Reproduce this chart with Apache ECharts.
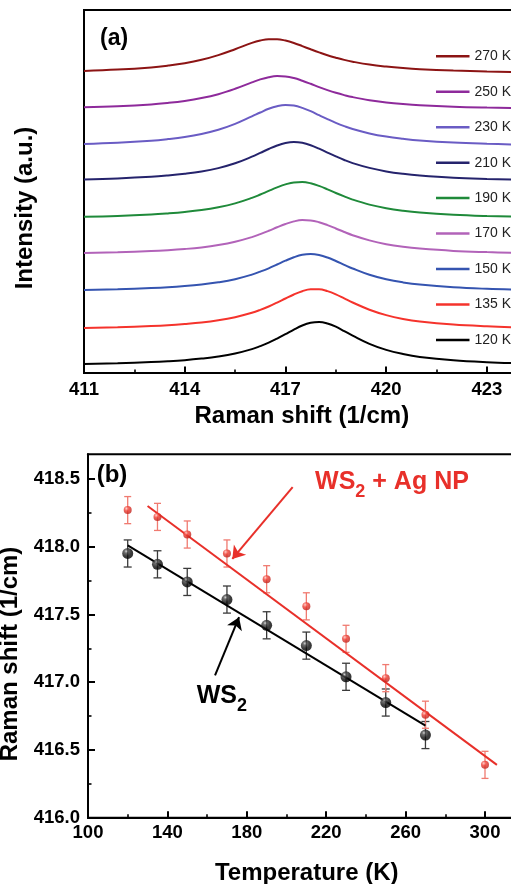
<!DOCTYPE html>
<html><head><meta charset="utf-8">
<script src="https://cdn.jsdelivr.net/npm/echarts@6/dist/echarts.min.js"></script>
<style>html,body{margin:0;padding:0;background:#fff;overflow:hidden}#c{width:511px;height:884px}</style>
</head><body><div id="c"></div>
<script>
// ---------- Panel (a): Raman spectra (intensity in arbitrary units, stacked) ----------
const ramanX = [411, 412, 413, 413.5, 414, 414.5, 415, 415.5, 416, 416.25, 416.5, 416.75, 417, 417.25, 417.5, 417.75, 418, 418.25, 418.5, 418.75, 419, 419.5, 420, 420.5, 421, 422, 423, 424];
const temps = ['270 K', '250 K', '230 K', '210 K', '190 K', '170 K', '150 K', '135 K', '120 K'];
const i270 = [302.1, 303.4, 305.6, 307.4, 309.8, 313.2, 317.9, 323.8, 330.1, 332.5, 333.8, 333.8, 332.4, 330.0, 326.9, 323.7, 320.6, 317.7, 315.3, 313.1, 311.3, 308.4, 306.4, 304.9, 303.8, 302.4, 301.5, 300.9];
const i250 = [265.7, 266.8, 268.6, 270.1, 272.1, 274.9, 278.8, 284.2, 290.6, 293.6, 295.8, 296.9, 296.6, 295.0, 292.3, 289.2, 285.9, 282.9, 280.2, 277.9, 275.9, 272.8, 270.6, 269.0, 267.8, 266.3, 265.4, 264.8];
const i230 = [229.1, 230.3, 232.3, 233.9, 236.0, 239.0, 243.2, 249.1, 256.6, 260.5, 264.2, 266.8, 268.0, 267.4, 265.1, 261.8, 257.8, 253.9, 250.2, 246.9, 244.0, 239.6, 236.4, 234.2, 232.5, 230.4, 229.2, 228.4];
const i210 = [193.6, 194.6, 196.2, 197.5, 199.2, 201.5, 204.9, 209.7, 216.3, 220.1, 224.0, 227.5, 230.0, 231.0, 230.2, 227.8, 224.3, 220.4, 216.6, 213.0, 209.9, 205.1, 201.6, 199.2, 197.5, 195.3, 194.1, 193.3];
const i190 = [156.3, 157.1, 158.5, 159.6, 161.0, 162.9, 165.7, 169.6, 175.1, 178.5, 182.1, 185.6, 188.6, 190.6, 190.9, 189.7, 187.1, 183.7, 180.0, 176.6, 173.4, 168.4, 164.8, 162.3, 160.5, 158.3, 157.0, 156.2];
const i170 = [120.0, 120.7, 121.9, 122.8, 124.0, 125.6, 127.9, 131.2, 135.9, 138.9, 142.2, 145.7, 149.0, 151.6, 152.9, 152.6, 150.8, 147.9, 144.5, 141.0, 137.8, 132.6, 128.8, 126.2, 124.4, 122.1, 120.9, 120.1];
const i150 = [83.0, 83.7, 84.9, 85.7, 86.9, 88.5, 90.7, 93.8, 98.4, 101.4, 104.7, 108.5, 112.3, 115.7, 118.2, 119.0, 118.0, 115.5, 112.0, 108.2, 104.5, 98.2, 93.7, 90.6, 88.4, 85.7, 84.2, 83.3];
const i135 = [45.1, 45.8, 47.0, 47.8, 49.0, 50.5, 52.7, 55.8, 60.2, 63.1, 66.5, 70.4, 74.5, 78.5, 81.8, 83.7, 83.8, 81.9, 78.7, 74.6, 70.5, 63.3, 57.9, 54.1, 51.5, 48.4, 46.7, 45.6];
const i120 = [9.1, 9.8, 10.9, 11.7, 12.8, 14.4, 16.5, 19.5, 23.9, 26.9, 30.3, 34.4, 38.8, 43.4, 47.5, 50.2, 51.0, 49.5, 46.3, 41.9, 37.4, 29.2, 23.1, 19.0, 16.1, 12.7, 10.8, 9.7];
const aTicks = [411, 414, 417, 420, 423];
const aMinorTicks = [412.5, 415.5, 418.5, 421.5];

// ---------- Panel (b): Raman shift vs temperature ----------
const tWs2 = [120, 135, 150, 170, 190, 210, 230, 250, 270];
const ws2Shift = [417.95, 417.87, 417.74, 417.61, 417.42, 417.27, 417.04, 416.85, 416.61];
const ws2Err = [0.1, 0.1, 0.1, 0.1, 0.1, 0.1, 0.1, 0.1, 0.1];
const tAg = [120, 135, 150, 170, 190, 210, 230, 250, 270, 300];
const agShift = [418.27, 418.22, 418.09, 417.95, 417.76, 417.56, 417.32, 417.03, 416.76, 416.39];
const agErr = [0.1, 0.1, 0.1, 0.1, 0.1, 0.1, 0.1, 0.1, 0.1, 0.1];
const ws2FitT = [120, 270];
const ws2FitY = [418.01, 416.68];
const agFitT = [130, 306];
const agFitY = [418.30, 416.39];
const ws2ArrowT = [164.0, 176.1];
const ws2ArrowY = [417.05, 417.48];
const agArrowT = [203.1, 172.7];
const agArrowY = [418.44, 417.91];
const ws2LabelAt = [154.8, 416.90];
const agLabelAt = [214.4, 418.476];
const bTicksX = [100, 140, 180, 220, 260, 300];
const bMinorX = [120, 160, 200, 240, 280];
const bTicksY = [416.0, 416.5, 417.0, 417.5, 418.0, 418.5];
const bMinorY = [416.25, 416.75, 417.25, 417.75, 418.25];

const FONT = "'Liberation Sans', Arial, Helvetica, sans-serif";
const RED = '#e8302a';
const specColors = ['#8c1414', '#8e2a9b', '#6a5cc4', '#25236c', '#1f8a3a', '#b263b9', '#3554b0', '#f5332c', '#000000'];
const spectra = [i270, i250, i230, i210, i190, i170, i150, i135, i120];
const pair = (xs, ys) => xs.map((x, i) => [x, ys[i]]);

const labelStyle = {fontSize: 18.5, fontWeight: 'bold', color: '#000', fontFamily: FONT};
const nameStyle = {fontSize: 24, fontWeight: 'bold', color: '#000', fontFamily: FONT};
const lineBlack = {lineStyle: {color: '#000', width: 2}};

function majorX(grid, min, max, ticks, margin, name, gap, pad) {
  return {gridIndex: grid, type: 'value', position: 'bottom', min: min, max: max,
    axisLine: lineBlack,
    axisTick: {inside: true, length: 6.5, customValues: ticks, lineStyle: {color: '#000', width: 2}},
    axisLabel: Object.assign({customValues: ticks, margin: margin}, labelStyle),
    splitLine: {show: false},
    name: name, nameLocation: 'middle', nameGap: gap,
    nameTextStyle: Object.assign({padding: pad}, nameStyle)};
}
function minorX(grid, min, max, ticks) {
  return {gridIndex: grid, type: 'value', position: 'bottom', min: min, max: max,
    axisLine: {show: false},
    axisTick: {inside: true, length: 3.5, customValues: ticks, lineStyle: {color: '#000', width: 1.6}},
    axisLabel: {show: false}, splitLine: {show: false}};
}

function errRender(capHalf, color) {
  return function (params, api) {
    const x = api.value(0), y = api.value(1), e = api.value(2);
    const top = api.coord([x, y + e]);
    const bot = api.coord([x, y - e]);
    const st = () => ({stroke: color, lineWidth: 1.3});
    return {type: 'group', children: [
      {type: 'line', shape: {x1: top[0], y1: top[1], x2: bot[0], y2: bot[1]}, style: st()},
      {type: 'line', shape: {x1: top[0] - capHalf, y1: top[1], x2: top[0] + capHalf, y2: top[1]}, style: st()},
      {type: 'line', shape: {x1: bot[0] - capHalf, y1: bot[1], x2: bot[0] + capHalf, y2: bot[1]}, style: st()}
    ]};
  };
}
function arrowLine(ts, ys, color) {
  return {silent: true, symbol: ['none', 'arrow'], symbolSize: 12,
    label: {show: false}, lineStyle: {color: color, width: 2, type: 'solid', opacity: 1},
    itemStyle: {color: color},
    emphasis: {disabled: true},
    data: [[{coord: [ts[0], ys[0]]}, {coord: [ts[1], ys[1]]}]]};
}

const series = [];
spectra.forEach((arr, k) => series.push({
  name: temps[k], type: 'line', xAxisIndex: 0, yAxisIndex: 0,
  data: pair(ramanX, arr), smooth: 0.4, showSymbol: false, symbol: 'none',
  lineStyle: {width: 2, color: specColors[k]}, itemStyle: {color: specColors[k]},
  silent: true
}));

series.push({
  type: 'custom', xAxisIndex: 2, yAxisIndex: 1, silent: true, z: 2,
  encode: {x: 0, y: 1},
  data: tWs2.map((t, i) => [t, ws2Shift[i], ws2Err[i]]),
  renderItem: errRender(4, '#3a3a3a')
});
series.push({
  type: 'custom', xAxisIndex: 2, yAxisIndex: 1, silent: true, z: 2,
  encode: {x: 0, y: 1},
  data: tAg.map((t, i) => [t, agShift[i], agErr[i]]),
  renderItem: errRender(3.5, '#f07a70')
});
series.push({
  type: 'line', xAxisIndex: 2, yAxisIndex: 1, silent: true, z: 3,
  data: pair(ws2FitT, ws2FitY), showSymbol: false, symbol: 'none',
  lineStyle: {color: '#000', width: 2}, itemStyle: {color: '#000'},
  markLine: arrowLine(ws2ArrowT, ws2ArrowY, '#000')
});
series.push({
  type: 'line', xAxisIndex: 2, yAxisIndex: 1, silent: true, z: 3,
  data: pair(agFitT, agFitY), showSymbol: false, symbol: 'none',
  lineStyle: {color: RED, width: 2}, itemStyle: {color: RED},
  markLine: arrowLine(agArrowT, agArrowY, RED)
});
series.push({
  type: 'scatter', xAxisIndex: 2, yAxisIndex: 1, silent: true, z: 5,
  data: pair(tWs2, ws2Shift), symbolSize: 11,
  itemStyle: {color: {type: 'radial', x: 0.36, y: 0.3, r: 0.75,
    colorStops: [{offset: 0, color: '#c8c8c8'}, {offset: 0.22, color: '#4a4a4a'}, {offset: 0.6, color: '#0c0c0c'}, {offset: 1, color: '#000'}]}}
});
series.push({
  type: 'scatter', xAxisIndex: 2, yAxisIndex: 1, silent: true, z: 5,
  data: pair(tAg, agShift), symbolSize: 8,
  itemStyle: {color: {type: 'radial', x: 0.36, y: 0.3, r: 0.75,
    colorStops: [{offset: 0, color: '#ffc4bd'}, {offset: 0.4, color: '#ee3a30'}, {offset: 1, color: '#b8201a'}]}}
});
function richFor(color) {
  return {
    m: {fontSize: 25, fontWeight: 'bold', fontFamily: FONT, color: color, opacity: 1},
    s: {fontSize: 18, fontWeight: 'bold', fontFamily: FONT, color: color, opacity: 1, padding: [20, 0, 0, 0]}
  };
}
function annLabel(text, color) {
  return {show: true, position: 'right', distance: 0, formatter: text, color: color,
    fontWeight: 'bold', opacity: 1, textBorderWidth: 0, rich: richFor(color)};
}
series.push({
  type: 'scatter', xAxisIndex: 2, yAxisIndex: 1, silent: true, z: 6, symbolSize: 0,
  itemStyle: {opacity: 1},
  data: [
    {value: agLabelAt, label: annLabel('{m|WS}{s|2}{m| + Ag NP}', RED)},
    {value: ws2LabelAt, label: annLabel('{m|WS}{s|2}', '#000')}
  ]
});

const option = {
  animation: false,
  backgroundColor: '#fff',
  textStyle: {fontFamily: FONT},
  grid: [
    {left: 84, top: 10, width: 503.7, height: 363, show: true, borderColor: '#000', borderWidth: 2, outerBoundsMode: 'none', containLabel: false},
    {left: 88, top: 454.3, width: 476.4, height: 363.4, show: true, borderColor: '#000', borderWidth: 2, outerBoundsMode: 'none', containLabel: false}
  ],
  legend: {
    data: temps, orient: 'vertical', left: 436, top: 49.3, padding: 0, icon: 'rect',
    itemWidth: 33.5, itemHeight: 2.5, itemGap: 21.45, selectedMode: false,
    textStyle: {fontSize: 14, lineHeight: 14, color: '#222', fontFamily: FONT}
  },
  xAxis: [
    majorX(0, 411, 426, aTicks, 7, 'Raman shift (1/cm)', 31.5, [0, 68, 0, 0]),
    minorX(0, 411, 426, aMinorTicks),
    majorX(1, 100, 340, bTicksX, 6, 'Temperature (K)', 43.8, [0, 39, 0, 0]),
    minorX(1, 100, 340, bMinorX)
  ],
  yAxis: [
    {gridIndex: 0, type: 'value', position: 'left', min: 0, max: 363,
      axisLine: {show: true, lineStyle: {color: '#000', width: 2}},
      axisTick: {show: false}, axisLabel: {show: false}, splitLine: {show: false},
      name: 'Intensity (a.u.)', nameLocation: 'middle', nameRotate: 90, nameGap: 47,
      nameTextStyle: Object.assign({padding: [0, 33, 0, 0]}, nameStyle)},
    {gridIndex: 1, type: 'value', position: 'left', min: 416, max: 418.682,
      axisLine: {show: true, lineStyle: {color: '#000', width: 2}},
      axisTick: {inside: true, length: 7, customValues: bTicksY, lineStyle: {color: '#000', width: 2}},
      axisLabel: Object.assign({customValues: bTicksY, margin: 8, formatter: v => Number(v).toFixed(1)}, labelStyle),
      splitLine: {show: false},
      name: 'Raman shift (1/cm)', nameLocation: 'middle', nameRotate: 90, nameGap: 62,
      nameTextStyle: Object.assign({padding: [0, 36, 0, 0]}, nameStyle)},
    {gridIndex: 1, type: 'value', position: 'left', min: 416, max: 418.682,
      axisLine: {show: false},
      axisTick: {inside: true, length: 3.5, customValues: bMinorY, lineStyle: {color: '#000', width: 1.6}},
      axisLabel: {show: false}, splitLine: {show: false}}
  ],
  graphic: [
    {type: 'text', left: 100, top: 27, silent: true, style: {text: '(a)', font: 'bold 23px ' + FONT, fill: '#000'}},
    {type: 'text', left: 96.7, top: 463, silent: true, style: {text: '(b)', font: 'bold 24px ' + FONT, fill: '#000'}}
  ],
  series: series
};
const chart = echarts.init(document.getElementById('c'), null, {renderer: 'canvas'});
chart.setOption(option);
</script>
</body></html>
